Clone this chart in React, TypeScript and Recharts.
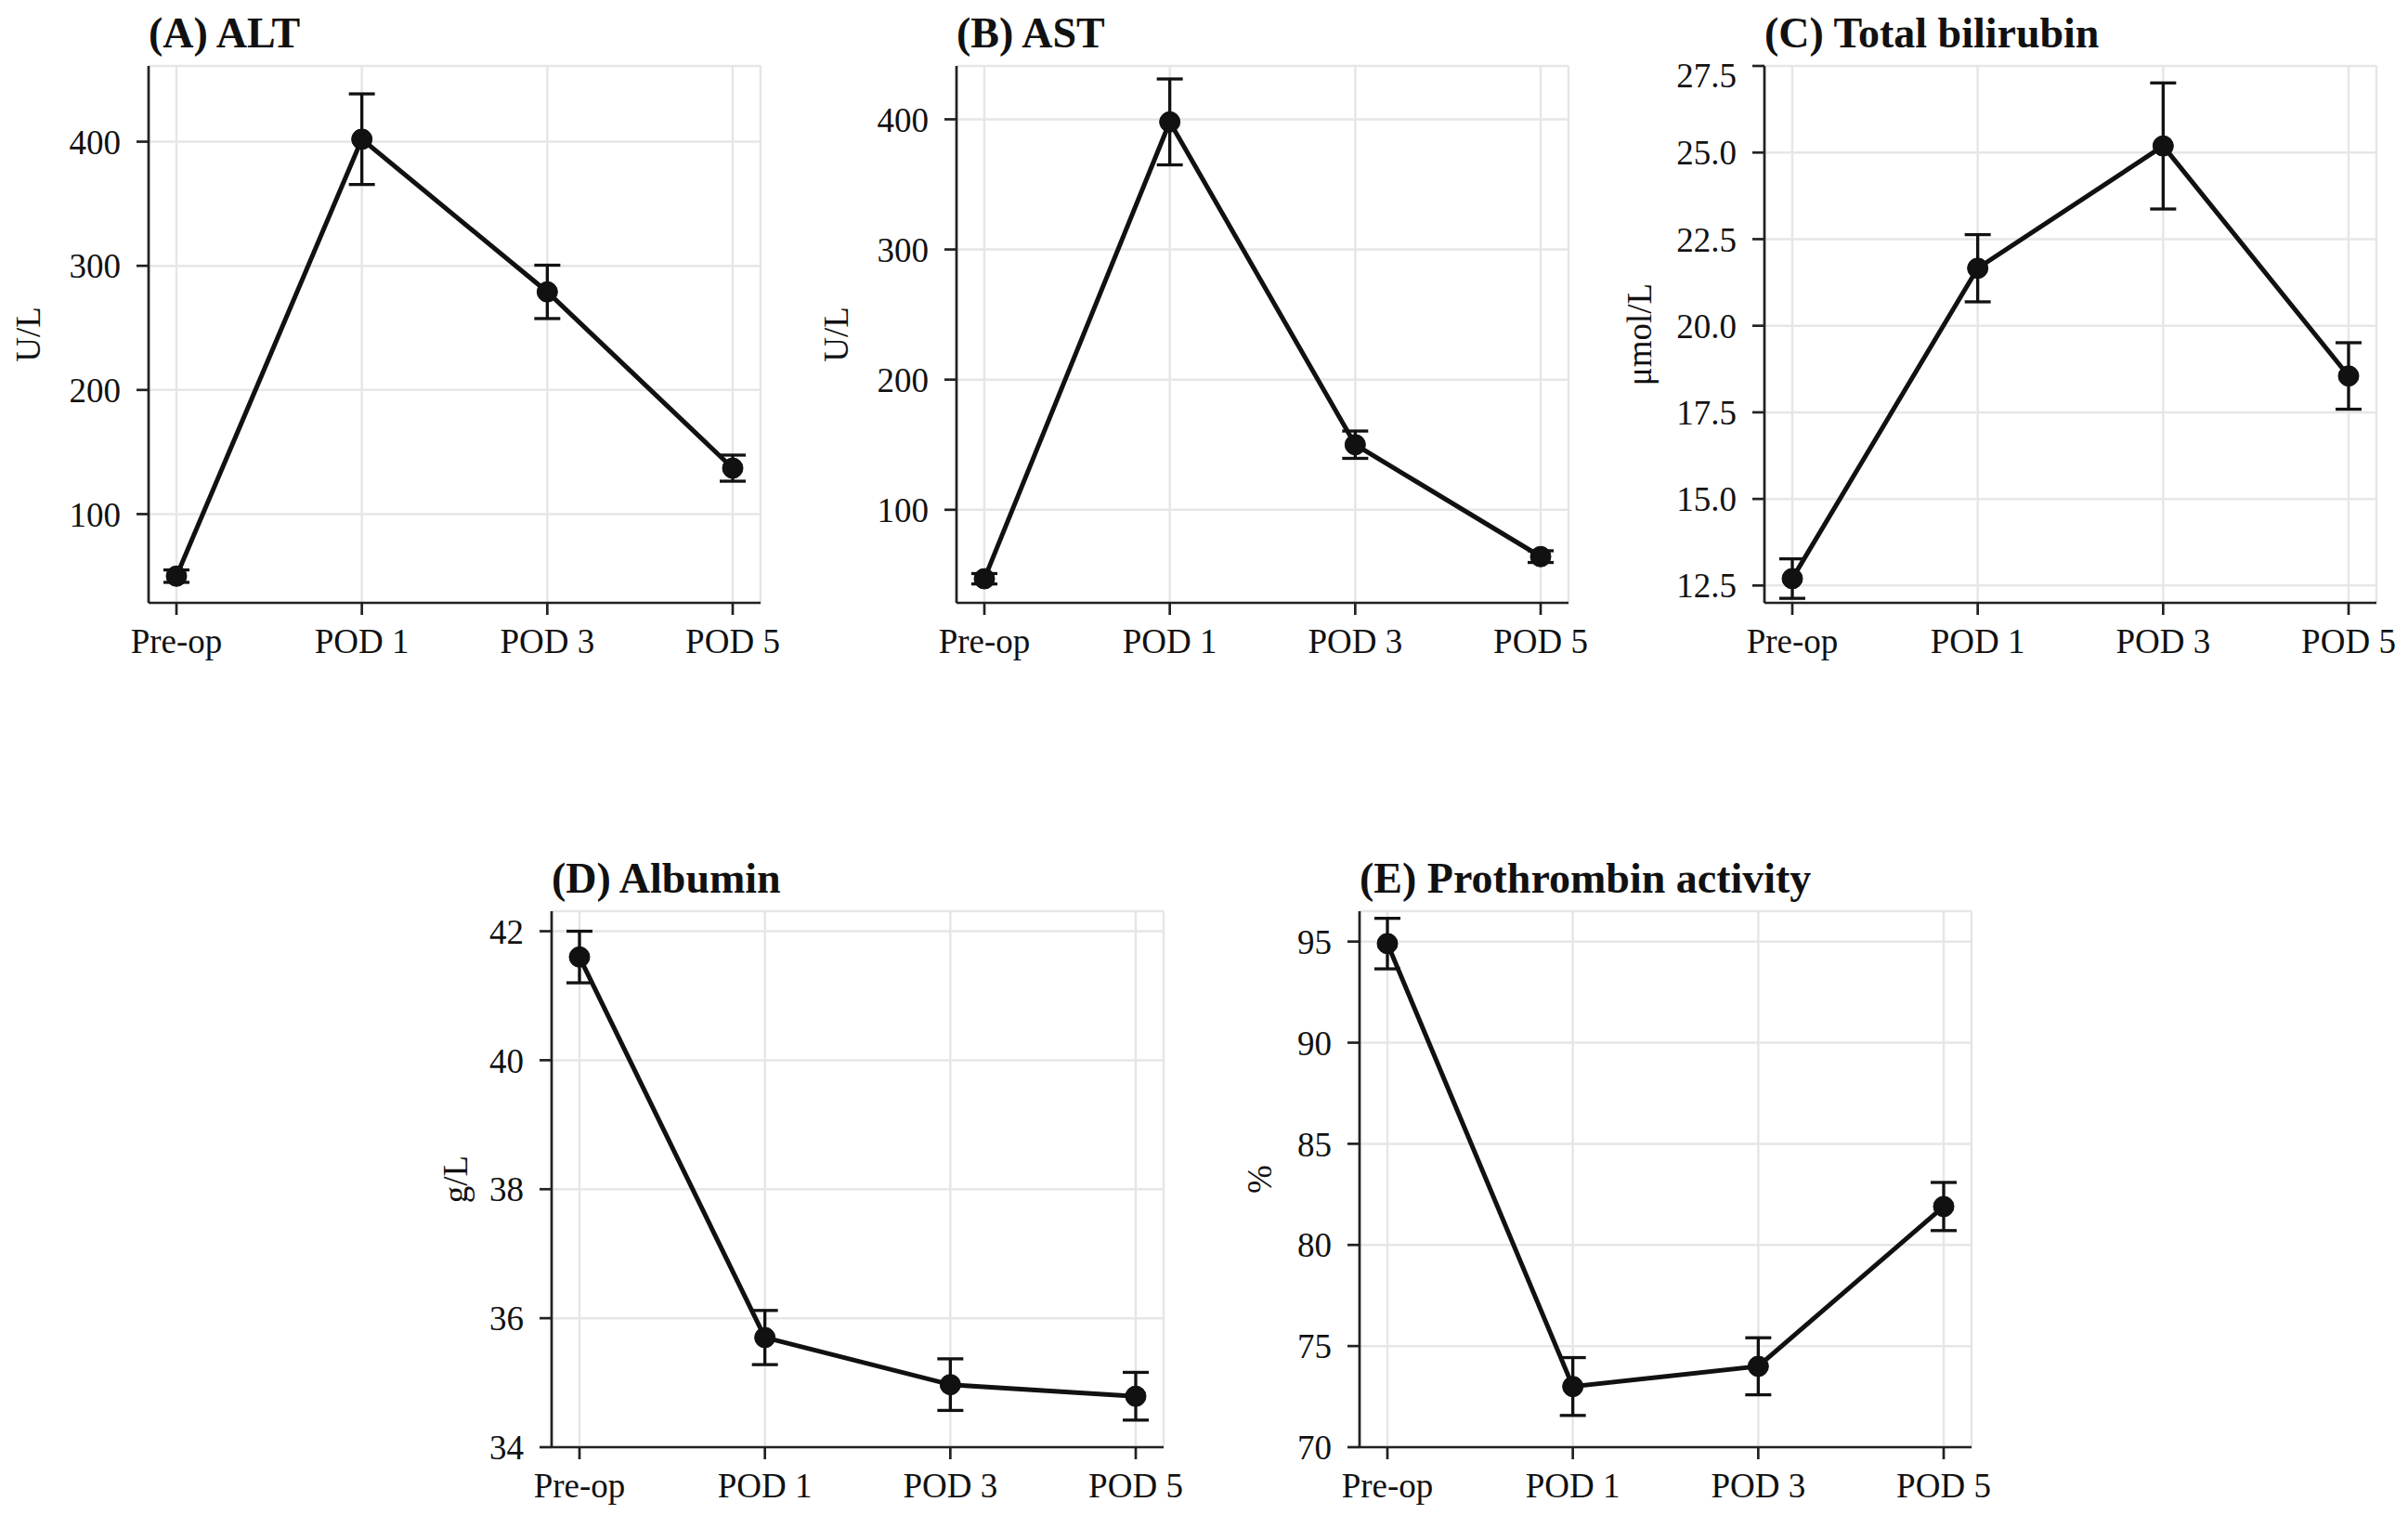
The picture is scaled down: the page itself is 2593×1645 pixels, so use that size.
import React from 'react';
import { LineChart, Line, XAxis, YAxis, CartesianGrid, ErrorBar } from 'recharts';

const timepoints = ['Pre-op', 'POD 1', 'POD 3', 'POD 5'];

// mean and SEM for each lab value
const altMean = [50, 402, 279, 137];
const altErr = [5, 36.5, 21.5, 10.5];
const astMean = [47, 398, 150, 64];
const astErr = [4, 33, 10.5, 4.5];
const bilirubinMean = [12.7, 21.66, 25.19, 18.55];
const bilirubinErr = [0.57, 0.97, 1.82, 0.96];
const albuminMean = [41.6, 35.7, 34.97, 34.79];
const albuminErr = [0.4, 0.42, 0.4, 0.37];
const ptaMean = [94.9, 73.0, 74.0, 81.9];
const ptaErr = [1.25, 1.43, 1.41, 1.19];

const altTicks = [100, 200, 300, 400];
const astTicks = [100, 200, 300, 400];
const bilirubinTicks = [12.5, 15, 17.5, 20, 22.5, 25, 27.5];
const albuminTicks = [34, 36, 38, 40, 42];
const ptaTicks = [70, 75, 80, 85, 90, 95];

const panels = [
  { title: '(A) ALT', unit: 'U/L', mean: altMean, err: altErr, domain: [28.5, 461], ticks: altTicks, decimals: 0 },
  { title: '(B) AST', unit: 'U/L', mean: astMean, err: astErr, domain: [28.5, 441], ticks: astTicks, decimals: 0 },
  { title: '(C) Total bilirubin', unit: 'μmol/L', mean: bilirubinMean, err: bilirubinErr, domain: [12.0, 27.5], ticks: bilirubinTicks, decimals: 1 },
  { title: '(D) Albumin', unit: 'g/L', mean: albuminMean, err: albuminErr, domain: [34, 42.31], ticks: albuminTicks, decimals: 0 },
  { title: '(E) Prothrombin activity', unit: '%', mean: ptaMean, err: ptaErr, domain: [70, 96.5], ticks: ptaTicks, decimals: 0 },
];

// plot box of each panel on the page, plus distance from box to the y label
const layout = [
  { left: 160, top: 71, right: 819, bottom: 649, labelGap: 130 },
  { left: 1030, top: 71, right: 1689, bottom: 649, labelGap: 130 },
  { left: 1900, top: 71, right: 2559, bottom: 649, labelGap: 135 },
  { left: 594, top: 981, right: 1253, bottom: 1558, labelGap: 104 },
  { left: 1464, top: 981, right: 2123, bottom: 1558, labelGap: 108 },
];

const fontFamily = "'Liberation Serif', 'Times New Roman', serif";
const ink = '#111';
const frame = { stroke: '#222', strokeWidth: 2.7 };

const Y_AXIS_W = 170;
const X_AXIS_H = 90;
const PAD_TOP = 12;
const PAD_RIGHT = 70;

const Panel = ({ title, unit, mean, err, domain, ticks, decimals, box }: any) => {
  const plotW = box.right - box.left;
  const plotH = box.bottom - box.top;
  const width = Y_AXIS_W + plotW + PAD_RIGHT;
  const height = PAD_TOP + plotH + X_AXIS_H;
  const data = timepoints.map((t, i) => ({ t, mean: mean[i], err: err[i] }));
  const tickStyle = { fill: ink, fontSize: 37, fontFamily };

  const yLabel = () => {
    const x = Y_AXIS_W - box.labelGap;
    const y = PAD_TOP + plotH / 2;
    return (
      <text
        x={x}
        y={y}
        transform={`rotate(-90 ${x} ${y})`}
        textAnchor="middle"
        dominantBaseline="central"
        fill={ink}
        fontSize={37}
        fontFamily={fontFamily}
      >
        {unit}
      </text>
    );
  };

  return (
    <>
      <div
        style={{
          position: 'absolute',
          left: box.left,
          top: box.top - 58,
          fontSize: 46,
          lineHeight: '46px',
          fontWeight: 'bold',
          whiteSpace: 'nowrap',
          color: ink,
        }}
      >
        {title}
      </div>
      <div style={{ position: 'absolute', left: box.left - Y_AXIS_W, top: box.top - PAD_TOP }}>
        <LineChart
          width={width}
          height={height}
          data={data}
          margin={{ top: PAD_TOP, right: PAD_RIGHT, bottom: 0, left: 0 }}
        >
          <CartesianGrid stroke="#e6e6e6" strokeWidth={2.5} />
          <XAxis
            dataKey="t"
            interval={0}
            padding={{ left: 30, right: 30 }}
            height={X_AXIS_H}
            axisLine={frame}
            tickLine={frame}
            tickSize={13}
            tickMargin={15}
            tick={tickStyle}
          />
          <XAxis xAxisId="top" orientation="top" dataKey="t" height={0} tick={false} tickLine={false} axisLine={frame} />
          <YAxis
            type="number"
            domain={domain}
            ticks={ticks}
            allowDataOverflow
            width={Y_AXIS_W}
            axisLine={frame}
            tickLine={frame}
            tickSize={13}
            tickMargin={17}
            tick={tickStyle}
            tickFormatter={(v: number) => v.toFixed(decimals)}
            label={yLabel}
          />
          <YAxis yAxisId="right" orientation="right" type="number" domain={[0, 1]} width={0} tick={false} tickLine={false} axisLine={frame} />
          <Line
            dataKey="mean"
            stroke={ink}
            strokeWidth={5}
            dot={{ r: 11, fill: ink, stroke: ink, strokeWidth: 1 }}
            activeDot={false}
            isAnimationActive={false}
          >
            <ErrorBar dataKey="err" direction="y" width={14} stroke={ink} strokeWidth={3.3} />
          </Line>
        </LineChart>
      </div>
    </>
  );
};

export default function App() {
  return (
    <div
      style={{
        position: 'absolute',
        left: 0,
        top: 0,
        width: 2593,
        height: 1645,
        background: '#fff',
        fontFamily,
      }}
    >
      {panels.map((p, i) => (
        <Panel key={p.title} {...p} box={layout[i]} />
      ))}
    </div>
  );
}
